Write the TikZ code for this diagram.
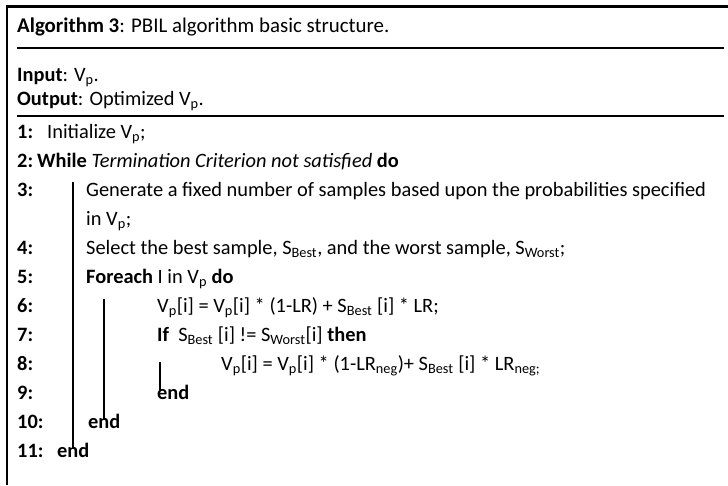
\documentclass[tikz,border=0pt]{standalone}
\usepackage{fontspec}
\setmainfont{Carlito}
\usetikzlibrary{positioning}

\begin{document}
\begin{tikzpicture}[x=1pt,y=-1pt,
  txt/.style={anchor=base west,inner sep=0pt,font=\fontsize{20.4}{24}\selectfont},
  num/.style={txt,font=\fontsize{20.4}{24}\selectfont\bfseries},
  rule/.style={line width=2pt},
  bar/.style={line width=1.8pt}]
  \def\first{138}
  \def\gap{29}
  \useasboundingbox (0,0) rectangle (728,485);
  \draw[line width=2.4pt] (7,485) -- (7,6.5) -- (728,6.5);
  \draw[rule] (17,47.5) -- (724,47.5);
  \draw[rule] (17,116) -- (724,116);
  \node[txt,font=\fontsize{20.9}{24}\selectfont] (title) at (17,32) {\textbf{Algorithm 3}: PBIL algorithm basic structure.};
  \node[txt] (input) at (17,81) {\textbf{Input}: V\textsubscript{p}.};
  \node[txt] (output) at (17,105) {\textbf{Output}: Optimized V\textsubscript{p}.};
  % line numbers, row 3 is the wrapped part of step 3
  \foreach \n/\r in {1/0,2/1,3/2,4/4,5/5,6/6,7/7,8/8,9/9,10/10,11/11}{
    \node[num] (num\n) at (17,{\first+\r*\gap}) {\n:};
  }
  \node[txt] (s1) at (47,{\first}) {Initialize V\textsubscript{p};};
  \node[txt] (s2) at (37,{\first+\gap}) {\textbf{While} \textit{Termination Criterion not satisfied} \textbf{do}};
  \node[txt] (s3) at (86,{\first+2*\gap}) {Generate a fixed number of samples based upon the probabilities specified};
  \node[txt] (s3b) at (86,{\first+3*\gap}) {in V\textsubscript{p};};
  \node[txt] (s4) at (86,{\first+4*\gap}) {Select the best sample, S\textsubscript{Best}, and the worst sample, S\textsubscript{Worst};};
  \node[txt] (s5) at (86,{\first+5*\gap}) {\textbf{Foreach} I in V\textsubscript{p} \textbf{do}};
  \node[txt] (s6) at (157,{\first+6*\gap}) {V\textsubscript{p}[i] = V\textsubscript{p}[i] * (1-LR) + S\textsubscript{Best} [i] * LR;};
  \node[txt] (s7) at (157,{\first+7*\gap}) {\textbf{If}\ \ S\textsubscript{Best} [i] != S\textsubscript{Worst}[i] \textbf{then}};
  \node[txt] (s8) at (221,{\first+8*\gap}) {V\textsubscript{p}[i] = V\textsubscript{p}[i] * (1-LR\textsubscript{neg})+ S\textsubscript{Best} [i] * LR\textsubscript{neg;}};
  \node[txt] (s9) at (157,{\first+9*\gap}) {\textbf{end}};
  \node[txt] (s10) at (88,{\first+10*\gap}) {\textbf{end}};
  \node[txt] (s11) at (57,{\first+11*\gap}) {\textbf{end}};
  % block bars
  \draw[bar] (73,182) -- (73,449);
  \draw[bar] (104,299) -- (104,419);
  \draw[bar] (160,362) -- (160,390);
\end{tikzpicture}
\end{document}
